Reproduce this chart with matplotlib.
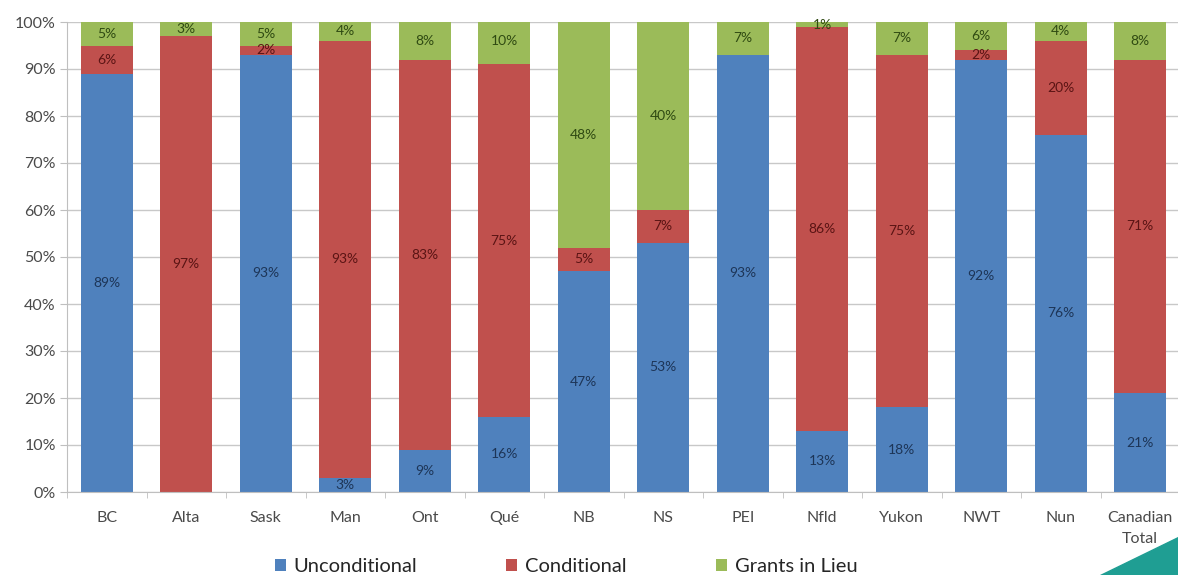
import matplotlib.pyplot as plt
import numpy as np
from matplotlib.patches import Polygon

plt.rcParams['font.family'] = ['Lato', 'DejaVu Sans']

# share of transfers by type (%)
regions = ['BC', 'Alta', 'Sask', 'Man', 'Ont', 'Qué', 'NB', 'NS', 'PEI',
           'Nfld', 'Yukon', 'NWT', 'Nun', 'Canadian\nTotal']
unconditional = [89, 0, 93, 3, 9, 16, 47, 53, 93, 13, 18, 92, 76, 21]
conditional = [6, 97, 2, 93, 83, 75, 5, 7, 0, 86, 75, 2, 20, 71]
grants_in_lieu = [5, 3, 5, 4, 8, 10, 48, 40, 7, 1, 7, 6, 4, 8]

series = [('Unconditional', unconditional, '#4F81BD', '#1d3557'),
          ('Conditional', conditional, '#C0504D', '#5a1414'),
          ('Grants in Lieu', grants_in_lieu, '#9BBB59', '#2f4a12')]

fig = plt.figure(figsize=(11.78, 5.75), dpi=100)
ax = fig.add_axes([67 / 1178, 1 - 492 / 575, 1113 / 1178, 470 / 575])

x = np.arange(len(regions))
bottom = np.zeros(len(regions))
for name, vals, col, tcol in series:
    v = np.array(vals, dtype=float)
    ax.bar(x, v, 0.65, bottom=bottom, color=col, label=name, zorder=2)
    for xi, b, h in zip(x, bottom, v):
        if h > 0:
            yc = min(b + h / 2, 99.4)
            ax.text(xi, yc, '%d%%' % h, ha='center', va='center',
                    fontsize=10, color=tcol, zorder=3)
    bottom += v

ax.set_xlim(-0.5, len(regions) - 0.5)
ax.set_ylim(0, 100)
ax.set_yticks(np.arange(0, 101, 10))
ax.set_yticklabels(['%d%%' % t for t in range(0, 101, 10)])
ax.yaxis.grid(True, color='#c8c8c8', lw=1, zorder=0)
ax.set_axisbelow(True)

ax.set_xticks(x)
ax.set_xticklabels(regions, linespacing=1.6)
ax.set_xticks(np.arange(-0.5, len(regions), 1), minor=True)
ax.tick_params(axis='x', which='major', length=0, pad=14, labelsize=11.5,
               labelcolor='#4a4a4a')
ax.tick_params(axis='x', which='minor', length=4, color='#bfbfbf')
ax.tick_params(axis='y', length=5, color='#bfbfbf', labelsize=11.5,
               labelcolor='#4a4a4a', pad=3)

for s in ['top', 'right']:
    ax.spines[s].set_visible(False)
for s in ['left', 'bottom']:
    ax.spines[s].set_color('#bfbfbf')

fig.legend(loc='center', bbox_to_anchor=(566 / 1178, 1 - 567 / 575), ncol=3,
           frameon=False, fontsize=14.5, handlelength=0.55, handleheight=0.55,
           handletextpad=0.4, columnspacing=4.4, labelcolor='#262626')

# slide decoration in the corner
fig.patches.append(Polygon([[1100 / 1178, 0], [1, 0], [1, 38 / 575]],
                           closed=True, transform=fig.transFigure,
                           color='#1f9e93', zorder=5))

fig.savefig('out.png', dpi=100)
